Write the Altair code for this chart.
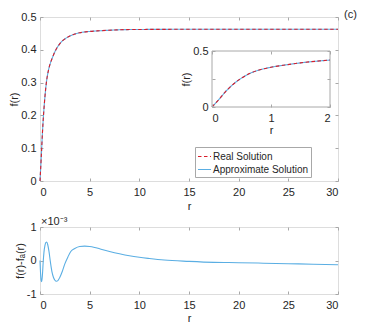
import altair as alt
import pandas as pd

# ---------------- data ----------------
r_vals = [0, 0.125, 0.25, 0.375, 0.5, 0.625, 0.75, 0.875, 1.0, 1.25, 1.5, 1.75,
          2.0, 2.5, 3.0, 3.5, 4.0, 5.0, 6.0, 8.0, 10.0, 15.0, 20.0, 25.0, 30.0]
f_real = [0, 0.072, 0.149, 0.21, 0.258, 0.296, 0.322, 0.341, 0.355, 0.376, 0.394, 0.408,
          0.419, 0.433, 0.442, 0.448, 0.452, 0.456, 0.458, 0.461, 0.462, 0.4625, 0.4625, 0.4625, 0.4625]
f_approx = [0, 0.072, 0.149, 0.21, 0.258, 0.296, 0.322, 0.341, 0.355, 0.376, 0.394, 0.408,
            0.419, 0.433, 0.442, 0.448, 0.452, 0.456, 0.458, 0.461, 0.462, 0.4625, 0.4625, 0.4625, 0.4625]

err_r = [0, 0.06, 0.12, 0.17, 0.24, 0.32, 0.4, 0.5, 0.6, 0.68, 0.78, 0.9, 1.05, 1.2, 1.35,
         1.5, 1.65, 1.8, 2.0, 2.25, 2.5, 2.8, 3.1, 3.5, 4.0, 4.5, 5.0, 5.5, 6.0, 7.0, 8.0,
         9.0, 10.0, 11.0, 12.5, 15.0, 17.5, 20.0, 22.5, 25.0, 27.5, 30.0]
err_v = [0, -0.4, -0.6, -0.63, -0.45, -0.05, 0.25, 0.45, 0.54, 0.55, 0.47, 0.28, -0.05, -0.33, -0.5,
         -0.59, -0.62, -0.6, -0.5, -0.32, -0.1, 0.1, 0.27, 0.36, 0.42, 0.43, 0.42, 0.39, 0.35, 0.27, 0.2,
         0.14, 0.095, 0.06, 0.015, -0.025, -0.055, -0.065, -0.08, -0.095, -0.11, -0.125]

series_names = ["Real Solution", "Approximate Solution"]
main_ticks = [0, 5, 10, 15, 20, 25, 30]
y_ticks = [0, 0.1, 0.2, 0.3, 0.4, 0.5]
inset_x_ticks = [0, 1, 2]
inset_y_ticks = [0, 0.25, 0.5]
err_ticks = [-1, 0, 1]
panel_label = ["(c)"]
exponent_label = ["×10⁻³"]

# ---------------- styling ----------------
FONT = "Liberation Sans"
TXT = "#262626"
GRAY = "#a8a8a8"
RED = "#d81e2c"
BLUE = "#5aaee3"
W, H = 298, 164
H2 = 67
TK = 3  # inward tick length

# inset placement in pixels within the main plot area
IX0, IX1 = 172, 290
IY0, IY1 = 90, 34

df_main = pd.concat([
    pd.DataFrame({"r": r_vals, "f": f_approx, "series": series_names[1]}),
    pd.DataFrame({"r": r_vals, "f": f_real, "series": series_names[0]}),
], ignore_index=True)

df_err = pd.DataFrame({"r": err_r, "e": err_v})
df_box = pd.DataFrame({"x0": [0], "x1": [2], "y0": [0], "y1": [0.5]})
df_lbl = pd.DataFrame({"t": panel_label})
df_exp = pd.DataFrame({"t": exponent_label})

DASHES = [[3.5, 2.5], [1, 0]]
color = alt.Color("series:N", scale=alt.Scale(domain=series_names, range=[RED, BLUE]),
                  legend=alt.Legend(title=None, orient="none", legendX=155, legendY=130,
                                    fillColor="white", strokeColor=GRAY, padding=2,
                                    labelFontSize=10, labelFont=FONT, labelColor=TXT,
                                    symbolType="stroke", symbolSize=170, symbolStrokeWidth=1.2,
                                    rowPadding=0, labelOffset=1))
dash = alt.StrokeDash("series:N", scale=alt.Scale(domain=series_names, range=DASHES),
                      legend=alt.Legend(title=None, orient="none", legendX=155, legendY=130))
color_nl = alt.Color("series:N", scale=alt.Scale(domain=series_names, range=[RED, BLUE]), legend=None)
dash_nl = alt.StrokeDash("series:N", scale=alt.Scale(domain=series_names, range=DASHES), legend=None)


def ax(orient, values, labels=True, offset=-TK, zindex=0, title=None, **kw):
    args = dict(orient=orient, values=values, offset=offset, tickSize=TK, domain=False,
                tickColor=GRAY, labels=labels, zindex=zindex, grid=False, format="~g",
                labelFontSize=11, labelFont=FONT, labelColor=TXT, labelPadding=4,
                titleFontSize=11, titleFont=FONT, titleColor=TXT, titleFontWeight="normal",
                titlePadding=1)
    args["title"] = title if title is not None else None
    args.update(kw)
    return alt.Axis(**args)


xs_main = alt.Scale(domain=[0, 30], nice=False)
ys_main = alt.Scale(domain=[0, 0.5], nice=False)

main_lines = alt.Chart(df_main).mark_line(strokeWidth=1.1, interpolate="monotone").encode(
    x=alt.X("r:Q", scale=xs_main, axis=ax("bottom", main_ticks, title="r", labelPadding=5,
                                         titlePadding=3)),
    y=alt.Y("f:Q", scale=ys_main, axis=ax("left", y_ticks, title="f(r)")),
    color=color, strokeDash=dash, detail="series:N",
)

main_frame = alt.Chart(df_main).mark_line(opacity=0).encode(
    x=alt.X("r:Q", scale=xs_main, axis=ax("top", main_ticks, labels=False)),
    y=alt.Y("f:Q", scale=ys_main, axis=ax("right", y_ticks, labels=False)),
    detail="series:N",
)

xs_in = alt.Scale(domain=[0, 2], range=[IX0, IX1], nice=False)
ys_in = alt.Scale(domain=[0, 0.5], range=[IY0, IY1], nice=False)

inset_box = alt.Chart(df_box).mark_rect(fill="white", stroke=GRAY, strokeWidth=1).encode(
    x=alt.X("x0:Q", scale=xs_in,
            axis=ax("bottom", inset_x_ticks, offset=(IY0 - TK) - H, zindex=1, title="r",
                    labelPadding=5)),
    x2="x1:Q",
    y=alt.Y("y0:Q", scale=ys_in,
            axis=ax("left", inset_y_ticks, offset=-(IX0 + TK), zindex=1, title="f(r)",
                    labelExpr="datum.value == 0.25 ? '' : datum.label")),
    y2="y1:Q",
)

inset_frame = alt.Chart(df_box).mark_rect(opacity=0).encode(
    x=alt.X("x0:Q", scale=xs_in,
            axis=ax("top", inset_x_ticks, labels=False, offset=-(IY1 + TK), zindex=1)),
    x2="x1:Q",
    y=alt.Y("y0:Q", scale=ys_in,
            axis=ax("right", inset_y_ticks, labels=False, offset=(IX1 - TK) - W, zindex=1)),
    y2="y1:Q",
)

inset_lines = alt.Chart(df_main).transform_filter("datum.r <= 2").mark_line(
    strokeWidth=1.1, interpolate="monotone").encode(
    x=alt.X("r:Q", scale=xs_in, axis=None),
    y=alt.Y("f:Q", scale=ys_in, axis=None),
    color=color_nl, strokeDash=dash_nl, detail="series:N",
)

label_c = alt.Chart(df_lbl).mark_text(align="left", baseline="middle", fontSize=11,
                                      font=FONT, color=TXT).encode(
    x=alt.value(W + 6), y=alt.value(-2), text="t:N")

top = alt.layer(main_lines, main_frame, inset_box, inset_frame, inset_lines, label_c).resolve_scale(
    x="independent", y="independent").properties(width=W, height=H)

xs_err = alt.Scale(domain=[0, 30], nice=False)
ys_err = alt.Scale(domain=[-1, 1], nice=False)

err_line = alt.Chart(df_err).mark_line(color=BLUE, strokeWidth=1.1, interpolate="monotone").encode(
    x=alt.X("r:Q", scale=xs_err, axis=ax("bottom", main_ticks, title="r", labelPadding=5,
                                        titlePadding=2)),
    y=alt.Y("e:Q", scale=ys_err, axis=ax("left", err_ticks, title="f(r)-fₐ(r)",
                                        labelExpr="replace(datum.label, '−', '-')")),
)
err_frame = alt.Chart(df_err).mark_line(opacity=0).encode(
    x=alt.X("r:Q", scale=xs_err, axis=ax("top", main_ticks, labels=False)),
    y=alt.Y("e:Q", scale=ys_err, axis=ax("right", err_ticks, labels=False)),
)
exp_text = alt.Chart(df_exp).mark_text(align="left", baseline="alphabetic", fontSize=11,
                                       font=FONT, color=TXT).encode(
    x=alt.value(1), y=alt.value(-2), text="t:N")

bottom = alt.layer(err_line, err_frame, exp_text).resolve_scale(
    x="independent", y="independent").properties(width=W, height=H2)

chart = alt.vconcat(top, bottom, spacing=3).properties(
    padding={"left": 0, "top": 0, "right": 0, "bottom": 0}
).configure_view(stroke=GRAY, strokeWidth=1).configure(background="white")

chart.save("out.html", embed_options={"renderer": "svg", "actions": False})
